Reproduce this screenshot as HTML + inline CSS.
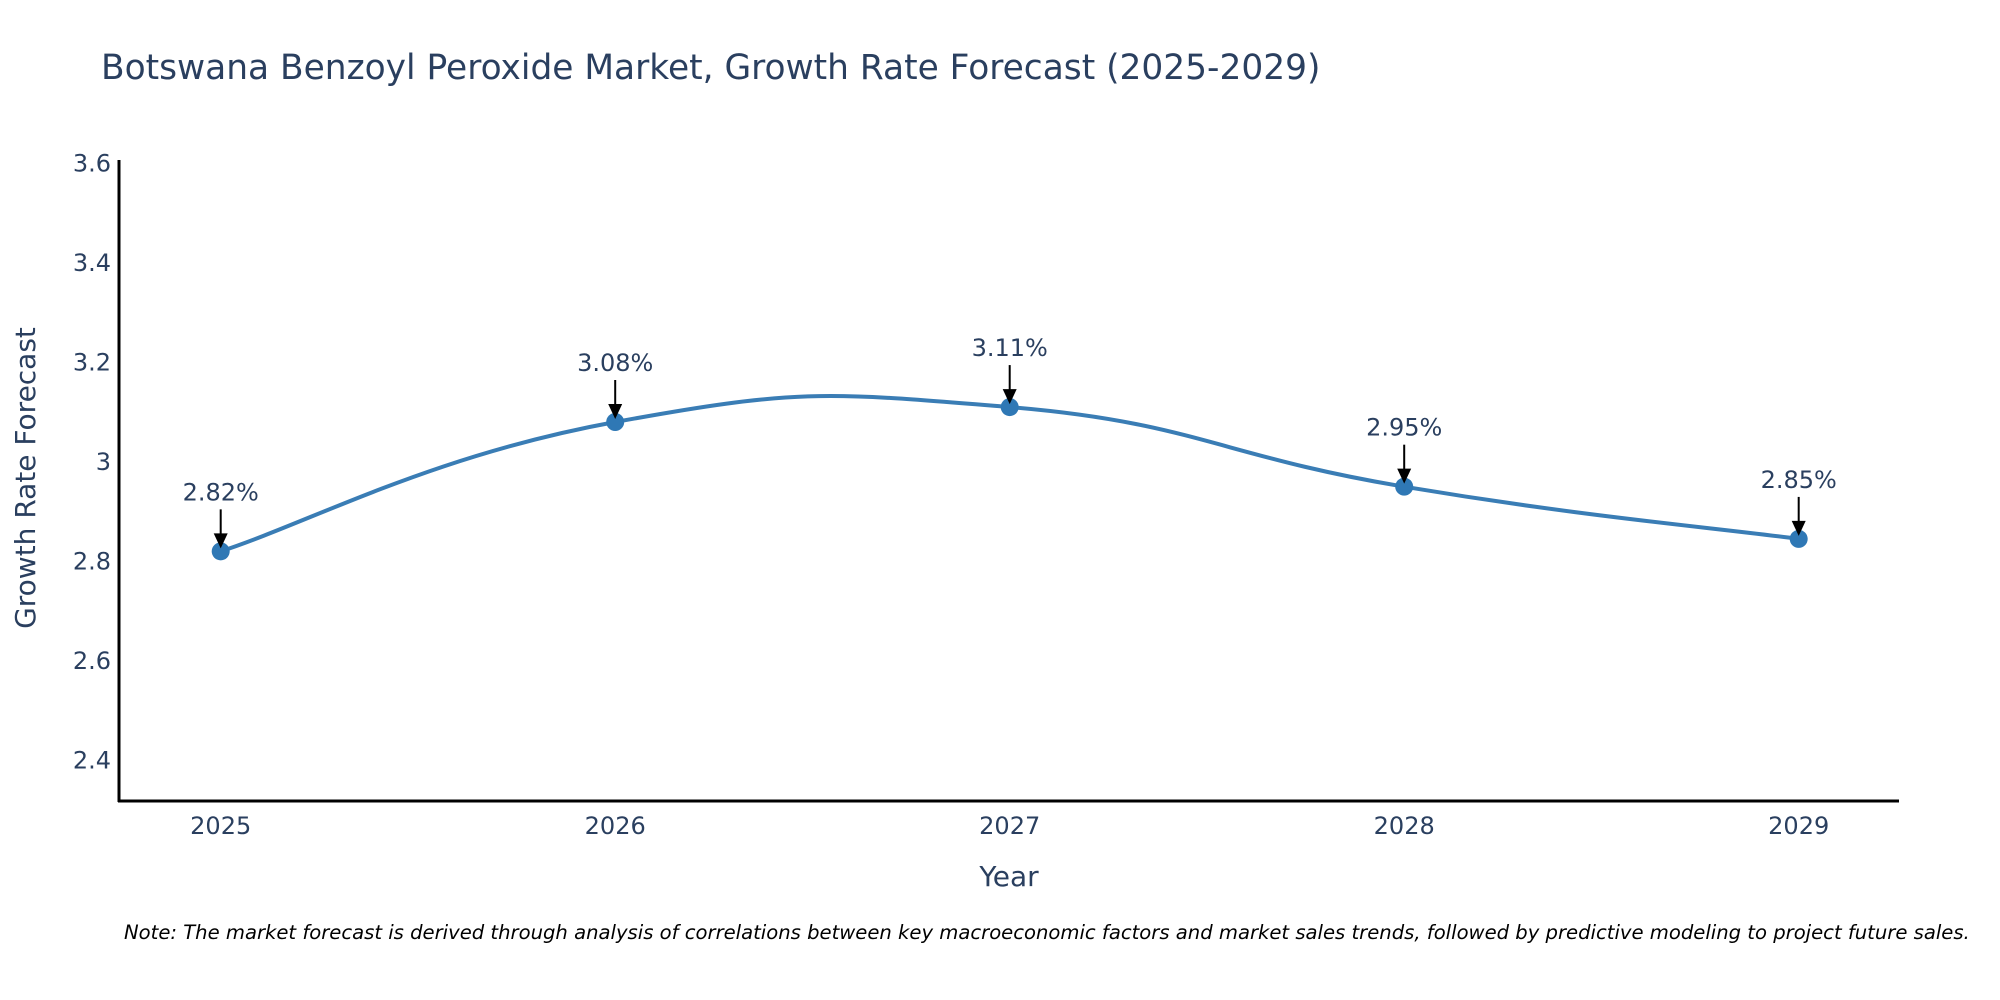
<!DOCTYPE html>
<html><head><meta charset="utf-8"><style>
html,body{margin:0;padding:0;background:#fff;}
svg{display:block;font-family:"DejaVu Sans","Liberation Sans",sans-serif;}
</style></head><body>
<svg id="chart" width="2000" height="1000" viewBox="0 0 2000 1000" xmlns="http://www.w3.org/2000/svg">
<text x="101" y="79" font-size="34.4" fill="#2a3f5f">Botswana Benzoyl Peroxide Market, Growth Rate Forecast (2025-2029)</text>
<g id="yticks"></g><g id="xticks"></g>
<line x1="119" y1="160" x2="119" y2="802" stroke="#000" stroke-width="3"/>
<line x1="118" y1="801" x2="1899" y2="801" stroke="#000" stroke-width="3"/>
<text transform="translate(35,478) rotate(-90)" text-anchor="middle" font-size="28" fill="#2a3f5f">Growth Rate Forecast</text>
<text x="1009" y="886" text-anchor="middle" font-size="28" fill="#2a3f5f">Year</text>
<path id="line" fill="none" stroke="#3a7db5" stroke-width="4"/>
<g id="marks"></g>
<text x="124" y="939" font-size="19.6" font-style="italic" fill="#000">Note: The market forecast is derived through analysis of correlations between key macroeconomic factors and market sales trends, followed by predictive modeling to project future sales.</text>
</svg>
<script>
const years = [2025, 2026, 2027, 2028, 2029];
const values = [2.82, 3.08, 3.11, 2.95, 2.845];
const labels = ["2.82%", "3.08%", "3.11%", "2.95%", "2.85%"];
const yTicks = [2.4, 2.6, 2.8, 3, 3.2, 3.4, 3.6];
const yTickLabels = ["2.4", "2.6", "2.8", "3", "3.2", "3.4", "3.6"];

const NS = "http://www.w3.org/2000/svg";
function xs(y){ return 220.7 + (y - 2025) * 394.5; }
function ys(v){ return 163.3 + (3.6 - v) * 497.5; }
function mk(tag, attrs){ const e=document.createElementNS(NS,tag); for(const k in attrs) e.setAttribute(k,attrs[k]); return e; }

const yt=document.getElementById('yticks');
yTicks.forEach((t,i)=>{
  const e=mk('text',{x:111,y:ys(t)+8,'text-anchor':'end','font-size':24,fill:'#2a3f5f'});
  
  
  e.textContent=yTickLabels[i]; yt.appendChild(e);
});
const xt=document.getElementById('xticks');
years.forEach(y=>{
  const e=mk('text',{x:xs(y),y:834,'text-anchor':'middle','font-size':24,fill:'#2a3f5f'});
  
  
  e.textContent=String(y); xt.appendChild(e);
});

const pts=years.map((y,i)=>[xs(y),ys(values[i])]);
let d='M'+pts[0][0]+','+pts[0][1];
const t=0.7;
for(let i=0;i<pts.length-1;i++){
  const p0=pts[Math.max(0,i-1)],p1=pts[i],p2=pts[i+1],p3=pts[Math.min(pts.length-1,i+2)];
  const c1=[p1[0]+(p2[0]-p0[0])*t/3,p1[1]+(p2[1]-p0[1])*t/3];
  const c2=[p2[0]-(p3[0]-p1[0])*t/3,p2[1]-(p3[1]-p1[1])*t/3];
  d+=' C'+c1[0]+','+c1[1]+' '+c2[0]+','+c2[1]+' '+p2[0]+','+p2[1];
}
document.getElementById('line').setAttribute('d',d);

const g=document.getElementById('marks');
pts.forEach((p,i)=>{
  const c=mk('circle',{cx:p[0],cy:p[1],r:9,fill:'#2f78b5'});
  
  
  g.appendChild(c);
  const a=mk('line',{x1:p[0],y1:p[1]-42,x2:p[0],y2:p[1]-16,stroke:'#000','stroke-width':2});
  
  
  g.appendChild(a);
  const h=mk('polygon',{points:(p[0]-7)+','+(p[1]-18)+' '+(p[0]+7)+','+(p[1]-18)+' '+p[0]+','+(p[1]-3),fill:'#000'});
  
  
  g.appendChild(h);
  const tx=mk('text',{x:p[0],y:p[1]-51,'text-anchor':'middle','font-size':24,fill:'#2a3f5f'});
  
  
  tx.textContent=labels[i]; g.appendChild(tx);
});
</script>
</body></html>
